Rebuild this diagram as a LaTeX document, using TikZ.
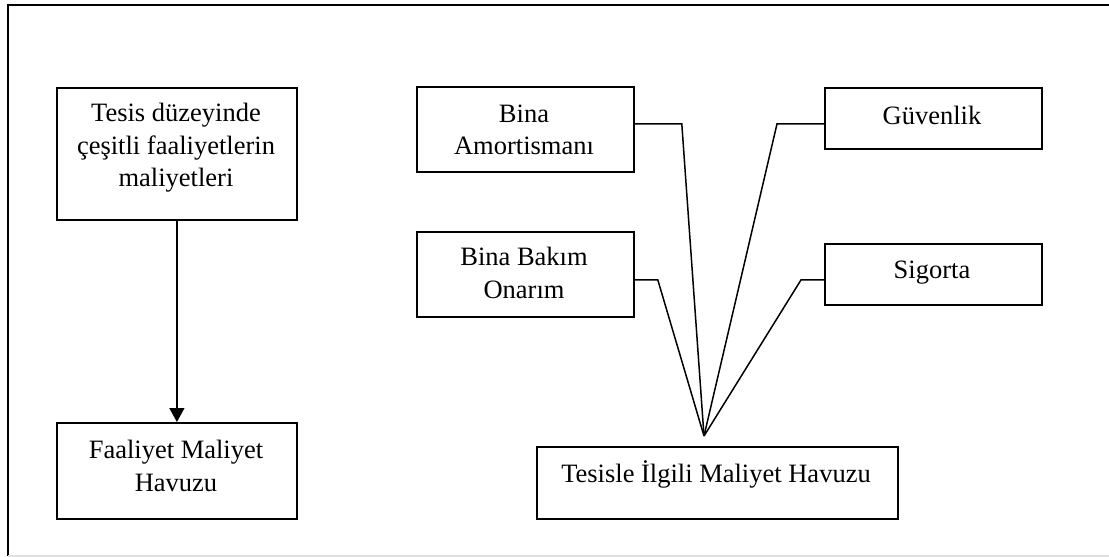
\documentclass[tikz,border=0pt]{standalone}
\usepackage{fontspec}
\setmainfont{Liberation Serif}
\usetikzlibrary{arrows.meta,calc}
\begin{document}
\begin{tikzpicture}[x=1pt,y=-1pt,
  box/.style={draw,line width=1.8pt,inner sep=0pt,anchor=north west},
  lbl/.style={align=center,inner sep=0pt,font=\fontsize{26.5}{32.5}\selectfont},
  link/.style={line width=1.5pt,line join=miter}]
\useasboundingbox (0,0) rectangle (1109,557);
% frame
\draw[line width=1.8pt] (1109,5) -- (8,5) -- (8,556);
\draw[line width=1.2pt,black!12] (8,556) -- (1109,556);
% left column
\node[box,minimum width=240,minimum height=132] (fa) at (56,87) {};
\node[lbl] (fat) at (176,148) {Tesis düzeyinde\\çeşitli faaliyetlerin\\maliyetleri};
\node[box,minimum width=240,minimum height=96] (fp) at (56,422) {};
\node[lbl] (fpt) at (176,466) {Faaliyet Maliyet\\Havuzu};
\draw[link,-{Triangle[length=14pt,width=15pt]}] (fa.south) -- (fp.north);
% right part: sources
\node[box,minimum width=217,minimum height=85] (am) at (416,86) {};
\node[lbl] (amt) at (524,130) {Bina\\Amortismanı};
\node[box,minimum width=217,minimum height=85] (bo) at (416,231) {};
\node[lbl] (bot) at (524,273) {Bina Bakım\\Onarım};
\node[box,minimum width=217,minimum height=61] (gu) at (824,87) {};
\node[lbl] (gut) at (932,115) {Güvenlik};
\node[box,minimum width=217,minimum height=61] (si) at (824,243) {};
\node[lbl] (sit) at (932,273) {Sigorta};
% pool
\node[box,minimum width=361,minimum height=72] (tp) at (536,446) {};
\node[lbl] (tpt) at (716,474) {Tesisle İlgili Maliyet Havuzu};
% converging connectors
\coordinate (hub) at (704,436);
\draw[link] ($(am.east)+(0,-5.5)$) -- ++(47,0) -- (hub);
\draw[link] ($(bo.east)+(0,5.5)$) -- ++(23,0) -- (hub);
\draw[link] ($(gu.west)+(0,5.5)$) -- ++(-47,0) -- (hub);
\draw[link] ($(si.west)+(0,5.5)$) -- ++(-23,0) -- (hub);
\end{tikzpicture}
\end{document}
